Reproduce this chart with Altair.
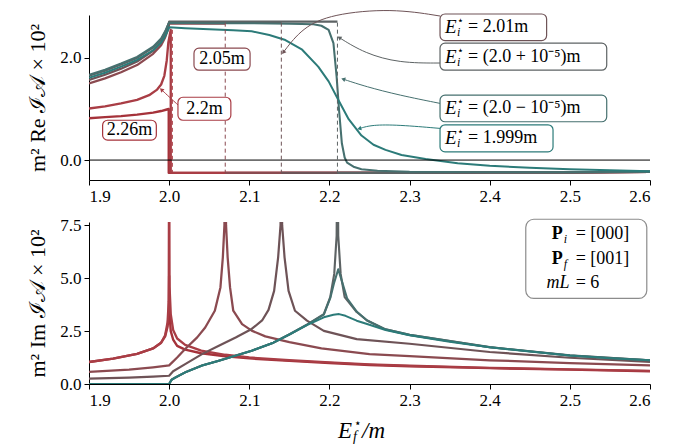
import math
import altair as alt
import pandas as pd

FONT = "Liberation Serif"

SERIES = ["2.26m", "2.2m", "2.05m", "2.01m", "(2.0+1e-5)m", "(2.0-1e-5)m", "1.999m"]
COLORS = ["#a5323a", "#a93d45", "#8b4a50", "#6e5357", "#5d6364", "#46706f", "#2c7b79"]
WIDTHS = [2.4, 2.0, 2.0, 2.0, 2.0, 2.2, 2.2]
# curves whose jump in the real part is drawn only as a dashed guide
BROKEN = ["2.05m", "2.01m", "(2.0+1e-5)m"]

# ---------- top panel: m^2 Re I_A x 10^2 ----------
re_x_226 = [1.9, 1.92, 1.94, 1.96, 1.98, 1.99, 1.997, 1.9995, 1.9995, 2.1, 2.2, 2.3, 2.4, 2.5, 2.6]
re_y_226 = [0.82, 0.84, 0.86, 0.89, 0.93, 0.96, 0.99, 1.0, -0.25, -0.25, -0.25, -0.25, -0.24, -0.24, -0.23]

re_x_22 = [1.9, 1.92, 1.94, 1.96, 1.975, 1.985, 1.99, 1.994, 1.997, 1.999, 2.002, 2.002, 2.1, 2.2, 2.3, 2.4, 2.5, 2.6]
re_y_22 = [1.01, 1.05, 1.11, 1.18, 1.27, 1.38, 1.48, 1.65, 1.95, 2.3, 2.55, -0.25, -0.25, -0.25, -0.25, -0.24, -0.24, -0.23]

re_x_205 = [1.9, 1.92, 1.94, 1.96, 1.98, 1.99, 1.995, 1.999, 2.0, 2.03, 2.07, 2.07, 2.2, 2.3, 2.4, 2.5, 2.6]
re_y_205 = [1.50, 1.60, 1.72, 1.86, 2.08, 2.25, 2.40, 2.58, 2.67, 2.67, 2.67, -0.25, -0.25, -0.25, -0.24, -0.24, -0.23]

re_x_201 = [1.9, 1.92, 1.94, 1.96, 1.98, 1.99, 1.995, 1.999, 2.0, 2.07, 2.14, 2.14, 2.2, 2.3, 2.4, 2.5, 2.6]
re_y_201 = [1.57, 1.67, 1.79, 1.93, 2.14, 2.31, 2.45, 2.62, 2.69, 2.69, 2.69, -0.25, -0.25, -0.25, -0.24, -0.24, -0.23]

re_x_2p = [1.9, 1.92, 1.94, 1.96, 1.98, 1.99, 1.995, 1.999, 2.0, 2.1, 2.21, 2.21, 2.3, 2.4, 2.5, 2.6]
re_y_2p = [1.65, 1.75, 1.87, 2.00, 2.20, 2.36, 2.50, 2.66, 2.71, 2.71, 2.71, -0.25, -0.25, -0.24, -0.24, -0.23]

re_x_2m = [1.9, 1.92, 1.94, 1.96, 1.98, 1.99, 1.995, 1.999, 2.0, 2.05, 2.1, 2.15, 2.18, 2.19, 2.199, 2.205,
           2.209, 2.212, 2.2155, 2.219, 2.222, 2.23, 2.24, 2.26, 2.3, 2.4, 2.5, 2.6]
re_y_2m = [1.67, 1.77, 1.89, 2.02, 2.22, 2.38, 2.52, 2.66, 2.69, 2.68, 2.68, 2.67, 2.66, 2.63, 2.55, 2.29,
           1.63, 0.98, 0.33, 0.05, -0.05, -0.13, -0.18, -0.21, -0.23, -0.24, -0.24, -0.23]

re_x_1999 = [1.9, 1.92, 1.94, 1.96, 1.98, 1.99, 1.995, 1.999, 2.0, 2.02, 2.05, 2.08, 2.103, 2.125, 2.145, 2.166,
             2.186, 2.199, 2.211, 2.224, 2.24, 2.255, 2.27, 2.29, 2.32, 2.36, 2.4, 2.45, 2.5, 2.55, 2.6]
re_y_1999 = [1.61, 1.71, 1.83, 1.96, 2.15, 2.30, 2.42, 2.56, 2.60, 2.58, 2.56, 2.54, 2.52, 2.45, 2.35, 2.16,
             1.83, 1.54, 1.18, 0.80, 0.48, 0.30, 0.20, 0.10, 0.02, -0.06, -0.11, -0.15, -0.18, -0.20, -0.22]

# dashed thresholds in the top panel
step_series = ["2.2m", "2.05m", "2.01m", "(2.0+1e-5)m"]
step_x = [2.004, 2.07, 2.14, 2.21]
step_top = [2.55, 2.69, 2.69, 2.69]
step_bottom = [-0.25, -0.25, -0.25, -0.25]

# ---------- bottom panel: m^2 Im I_A x 10^2 ----------
im_x_226 = [1.9, 1.93, 1.96, 1.98, 1.99, 1.995, 1.998, 1.9995, 2.0, 2.0005, 2.002, 2.005, 2.01, 2.02, 2.04,
            2.07, 2.1, 2.15, 2.2, 2.25, 2.3, 2.4, 2.5, 2.6]
im_y_226 = [1.04, 1.20, 1.42, 1.68, 1.95, 2.25, 2.70, 3.30, 5.10, 3.30, 2.50, 2.10, 1.80, 1.62, 1.45,
            1.31, 1.21, 1.09, 0.99, 0.90, 0.84, 0.75, 0.68, 0.60]

im_x_22 = [1.9, 1.93, 1.96, 1.98, 1.99, 1.995, 1.998, 1.9995, 2.0, 2.0005, 2.002, 2.005, 2.01, 2.02, 2.04,
           2.07, 2.1, 2.15, 2.2, 2.25, 2.3, 2.4, 2.5, 2.6]
im_y_22 = [1.04, 1.20, 1.42, 1.68, 1.95, 2.30, 2.90, 3.90, 12.0, 4.60, 3.30, 2.55, 2.15, 1.85, 1.58,
           1.38, 1.25, 1.12, 1.02, 0.93, 0.86, 0.76, 0.69, 0.62]

im_x_205 = [1.9, 1.95, 1.98, 2.0, 2.01, 2.02, 2.035, 2.045, 2.057, 2.064, 2.067, 2.069, 2.07, 2.071, 2.073,
            2.076, 2.08, 2.091, 2.103, 2.12, 2.15, 2.19, 2.25, 2.3, 2.4, 2.5, 2.6]
im_y_205 = [0.57, 0.68, 0.79, 0.88, 1.25, 1.65, 2.20, 2.67, 3.46, 4.56, 5.98, 7.50, 12.0, 7.50, 5.98,
            4.56, 3.46, 2.83, 2.52, 2.25, 1.98, 1.68, 1.41, 1.32, 1.12, 0.99, 0.88]

im_x_201 = [1.9, 1.95, 1.98, 2.0, 2.005, 2.02, 2.041, 2.062, 2.083, 2.103, 2.116, 2.124, 2.131, 2.136, 2.139,
            2.14, 2.141, 2.144, 2.149, 2.157, 2.172, 2.193, 2.234, 2.3, 2.4, 2.5, 2.6]
im_y_201 = [0.25, 0.30, 0.35, 0.39, 0.60, 0.94, 1.41, 1.81, 2.20, 2.60, 3.00, 3.50, 4.40, 5.98, 7.50,
            12.0, 7.50, 5.98, 4.40, 3.46, 2.99, 2.51, 2.12, 1.90, 1.51, 1.24, 1.04]

im_x_2p = [1.9, 2.0, 2.003, 2.008, 2.02, 2.041, 2.062, 2.083, 2.103, 2.13, 2.151, 2.172, 2.193, 2.201, 2.206,
           2.209, 2.21, 2.211, 2.214, 2.219, 2.234, 2.247, 2.27, 2.3, 2.4, 2.5, 2.6]
im_y_2p = [0.0, 0.0, 0.20, 0.31, 0.55, 0.87, 1.10, 1.34, 1.57, 1.95, 2.36, 2.80, 3.30, 4.10, 5.20,
           7.00, 12.0, 7.00, 5.20, 4.10, 3.40, 3.00, 2.58, 2.32, 1.74, 1.35, 1.12]

im_x_2m = [1.9, 2.0, 2.003, 2.008, 2.02, 2.041, 2.062, 2.083, 2.103, 2.13, 2.151, 2.172, 2.193, 2.201, 2.206,
           2.211, 2.216, 2.222, 2.234, 2.247, 2.27, 2.3, 2.4, 2.5, 2.6]
im_y_2m = [0.0, 0.0, 0.20, 0.31, 0.55, 0.87, 1.10, 1.34, 1.57, 1.95, 2.36, 2.80, 3.28, 4.05, 4.80,
           5.42, 4.80, 4.05, 3.42, 3.00, 2.58, 2.32, 1.74, 1.35, 1.12]

im_x_1999 = [1.9, 2.0, 2.003, 2.008, 2.02, 2.041, 2.062, 2.083, 2.103, 2.13, 2.151, 2.172, 2.193, 2.205, 2.212,
             2.22, 2.234, 2.247, 2.27, 2.3, 2.35, 2.4, 2.45, 2.5, 2.55, 2.6]
im_y_1999 = [0.0, 0.0, 0.20, 0.31, 0.55, 0.87, 1.10, 1.34, 1.57, 1.95, 2.36, 2.78, 3.15, 3.27, 3.30,
             3.22, 2.99, 2.83, 2.55, 2.30, 2.00, 1.74, 1.53, 1.35, 1.22, 1.12]

x_ticks = [1.9, 2.0, 2.1, 2.2, 2.3, 2.4, 2.5, 2.6]
re_ticks = [0.0, 2.0]
im_ticks = [0.0, 2.5, 5.0, 7.5]

# ---------- layout ----------
W = 561
H_TOP = 165
H_BOT = 162
X_DOM = [1.9, 2.6]
RE_DOM = [-0.39, 2.84]
IM_DOM = [0.0, 7.65]


def long_table(xs_list, ys_list, break_jumps):
    rows = []
    for k, (name, xs, ys) in enumerate(zip(SERIES, xs_list, ys_list)):
        seg = 0
        for i, (x, y) in enumerate(zip(xs, ys)):
            if break_jumps and name in BROKEN and i > 0 and x == xs[i - 1]:
                seg += 1
            rows.append({"series": name, "seg": f"{name}-{seg}", "i": i, "ef": x, "v": y})
    return pd.DataFrame(rows)


re_df = long_table([re_x_226, re_x_22, re_x_205, re_x_201, re_x_2p, re_x_2m, re_x_1999],
                   [re_y_226, re_y_22, re_y_205, re_y_201, re_y_2p, re_y_2m, re_y_1999], True)
im_df = long_table([im_x_226, im_x_22, im_x_205, im_x_201, im_x_2p, im_x_2m, im_x_1999],
                   [im_y_226, im_y_22, im_y_205, im_y_201, im_y_2p, im_y_2m, im_y_1999], False)

color_scale = alt.Scale(domain=SERIES, range=COLORS)
width_scale = alt.Scale(domain=SERIES, range=WIDTHS)
xsc = alt.Scale(domain=X_DOM, nice=False, zero=False)
re_sc = alt.Scale(domain=RE_DOM, nice=False, zero=False)
im_sc = alt.Scale(domain=IM_DOM, nice=False, zero=False)

X_AXIS = alt.Axis(values=x_ticks, format=".1f", title=None, tickSize=5, labelPadding=3)
RE_AXIS = alt.Axis(values=re_ticks, format=".1f", title="m² Re ℐ𝒜 × 10²",
                   tickSize=5, labelPadding=3, titlePadding=10)
IM_AXIS = alt.Axis(values=im_ticks, format=".1f", title="m² Im ℐ𝒜 × 10²",
                   tickSize=5, labelPadding=3, titlePadding=10)


def X(field):
    return alt.X(field, scale=xsc, axis=X_AXIS)


def YR(field):
    return alt.Y(field, scale=re_sc, axis=RE_AXIS)


def YI(field):
    return alt.Y(field, scale=im_sc, axis=IM_AXIS)


def curves(df, Yf):
    return alt.Chart(df).mark_line(clip=True, strokeJoin="round").encode(
        x=X("ef:Q"),
        y=Yf("v:Q"),
        color=alt.Color("series:N", scale=color_scale, legend=None),
        strokeWidth=alt.StrokeWidth("series:N", scale=width_scale, legend=None),
        detail="seg:N",
        order=alt.Order("i:Q"),
    )


top_lines = curves(re_df, YR)
bot_lines = curves(im_df, YI)

zero_df = pd.DataFrame({"v": [0.0]})
zero_line = alt.Chart(zero_df).mark_rule(color="black", strokeWidth=1).encode(y=YR("v:Q"))

steps_df = pd.DataFrame({"series": step_series, "ef": step_x, "v": step_top, "v2": step_bottom})
steps = alt.Chart(steps_df).mark_rule(strokeDash=[4, 3], strokeWidth=1).encode(
    x=X("ef:Q"), y=YR("v:Q"), y2="v2:Q",
    color=alt.Color("series:N", scale=color_scale, legend=None),
)

# ---------- annotations (top panel, data coordinates) ----------
simple_labels = ["2.05m", "2.2m", "2.26m"]
simple_series = ["2.05m", "2.2m", "2.26m"]
simple_x1 = [2.031, 2.011, 1.917]
simple_x2 = [2.101, 2.077, 1.984]
simple_y1 = [1.76, 0.78, 0.39]
simple_y2 = [2.19, 1.23, 0.78]

e_rest = ["= 2.01m", "= (2.0 + 10⁻⁵)m", "= (2.0 − 10⁻⁵)m", "= 1.999m"]
e_series = ["2.01m", "(2.0+1e-5)m", "(2.0-1e-5)m", "1.999m"]
e_x1 = [2.338, 2.338, 2.338, 2.338]
e_x2 = [2.471, 2.546, 2.546, 2.479]
e_y1 = [2.34, 1.76, 0.75, 0.16]
e_y2 = [2.86, 2.29, 1.27, 0.69]

box_df = pd.DataFrame({
    "series": simple_series + e_series,
    "x1": simple_x1 + e_x1, "x2": simple_x2 + e_x2,
    "y1": simple_y1 + e_y1, "y2": simple_y2 + e_y2,
})
box_df["xc"] = (box_df["x1"] + box_df["x2"]) / 2
box_df["yc"] = (box_df["y1"] + box_df["y2"]) / 2

boxes = alt.Chart(box_df).mark_rect(fill="white", cornerRadius=5, strokeWidth=1.2).encode(
    x=X("x1:Q"), x2="x2:Q", y=YR("y1:Q"), y2="y2:Q",
    stroke=alt.Stroke("series:N", scale=color_scale, legend=None),
)

simple_df = box_df.iloc[:3].copy()
simple_df["label"] = simple_labels
simple_text = alt.Chart(simple_df).mark_text(font=FONT, fontSize=18, color="black").encode(
    x=X("xc:Q"), y=YR("yc:Q"), text="label:N"
)

e_df = box_df.iloc[3:].copy()
e_df["rest"] = e_rest
e_df["E"] = "E"
e_df["star"] = "⋆"
e_df["sub"] = "i"


def part(df, field, dx, dy, size, style="normal", align="left"):
    return alt.Chart(df).mark_text(font=FONT, fontSize=size, fontStyle=style, align=align,
                                   baseline="middle", dx=dx, dy=dy, color="black").encode(
        x=X("x1:Q"), y=YR("yc:Q"), text=f"{field}:N"
    )


e_text = (part(e_df, "E", 5, 0, 19, "italic") + part(e_df, "star", 17, -6, 11)
          + part(e_df, "sub", 17, 5, 12, "italic") + part(e_df, "rest", 28, 0, 18))

# arrows: paths from boxes to curves
arrow_series = ["2.01m", "(2.0+1e-5)m", "(2.0-1e-5)m", "1.999m", "2.2m"]
arrow_x = [[2.338, 2.278, 2.203, 2.166, 2.143],
           [2.338, 2.287, 2.244, 2.213],
           [2.338, 2.287, 2.245, 2.218],
           [2.338, 2.286, 2.253, 2.238],
           [2.011, 1.9998, 1.991]]
arrow_y = [[2.82, 2.97, 2.86, 2.59, 2.12],
           [1.90, 1.90, 2.09, 2.39],
           [1.11, 1.27, 1.44, 1.58],
           [0.62, 0.69, 0.69, 0.62],
           [1.08, 1.24, 1.37]]

px_x = W / (X_DOM[1] - X_DOM[0])
px_y = H_TOP / (RE_DOM[1] - RE_DOM[0])
a_rows, h_rows = [], []
for a, (s, xs, ys) in enumerate(zip(arrow_series, arrow_x, arrow_y)):
    for i, (x, y) in enumerate(zip(xs, ys)):
        a_rows.append({"a": a, "i": i, "series": s, "ef": x, "v": y})
    dx = (xs[-1] - xs[-2]) * px_x
    dy = -(ys[-1] - ys[-2]) * px_y
    ang = math.degrees(math.atan2(dx, -dy)) % 360
    h_rows.append({"series": s, "ef": xs[-1], "v": ys[-1], "ang": ang})
arrow_df = pd.DataFrame(a_rows)
head_df = pd.DataFrame(h_rows)

arrow_lines = alt.Chart(arrow_df).mark_line(interpolate="basis", strokeWidth=1).encode(
    x=X("ef:Q"), y=YR("v:Q"),
    color=alt.Color("series:N", scale=color_scale, legend=None),
    detail="a:N", order=alt.Order("i:Q"),
)
arrow_heads = alt.Chart(head_df).mark_point(shape="triangle", filled=True, size=22, opacity=1).encode(
    x=X("ef:Q"), y=YR("v:Q"),
    color=alt.Color("series:N", scale=color_scale, legend=None),
    angle=alt.Angle("ang:Q", scale=None),
)

top = alt.layer(top_lines, zero_line, steps, arrow_lines, arrow_heads, boxes, simple_text, e_text).properties(
    width=W, height=H_TOP
)

# ---------- bottom panel info box ----------
info_left = ["P", "P", "mL"]
info_sub = ["i", "f", ""]
info_right = ["= [000]", "= [001]", "= 6"]
info_y = [7.08, 5.90, 4.77]
info_df = pd.DataFrame({"left": info_left, "sub": info_sub, "right": info_right, "v": info_y})
info_df["ef"] = 2.5072
info_box_df = pd.DataFrame({"x1": [2.445], "x2": [2.596], "y1": [4.04], "y2": [7.78]})

info_box = alt.Chart(info_box_df).mark_rect(fill="white", stroke="#8c8c8c", strokeWidth=1.2, cornerRadius=8).encode(
    x=X("x1:Q"), x2="x2:Q", y=YI("y1:Q"), y2="y2:Q",
)


def ipart(df, field, dx, dy, size, style="normal", weight="normal", align="left"):
    return alt.Chart(df).mark_text(font=FONT, fontSize=size, fontStyle=style, fontWeight=weight, align=align,
                                   baseline="middle", dx=dx, dy=dy, color="black").encode(
        x=X("ef:Q"), y=YI("v:Q"), text=f"{field}:N"
    )


info_P = info_df.iloc[:2]
info_m = info_df.iloc[2:]
info_text = (ipart(info_P, "left", -13, 0, 18, weight="bold", align="right")
             + ipart(info_P, "sub", -12, 5, 12, style="italic")
             + ipart(info_m, "left", -6, 0, 18, style="italic", align="right")
             + ipart(info_df, "right", 0, 0, 18))

# x-axis title E*_f / m as text pieces
xt_df = pd.DataFrame({"E": ["E"], "star": ["⋆"], "f": ["f"], "m": ["/m"]})


def xpart(field, x, dy, size, style="normal"):
    return alt.Chart(xt_df).mark_text(font=FONT, fontSize=size, fontStyle=style, align="left",
                                      baseline="middle", color="black", dy=dy).encode(
        x=alt.value(x), y=alt.value(H_BOT + 47), text=f"{field}:N"
    )


x_title = xpart("E", 249, 0, 23, "italic") + xpart("star", 265, -8, 12) + xpart("f", 264, 6, 14, "italic") + \
    xpart("m", 273, 0, 23, "italic")

bottom = alt.layer(bot_lines, info_box, info_text, x_title).properties(width=W, height=H_BOT)

chart = alt.vconcat(top, bottom, spacing=12).properties(
    padding={"left": 18, "top": 0, "right": 5, "bottom": 5}
).configure_view(stroke=None).configure_axis(
    domainColor="black", tickColor="black", labelColor="black", titleColor="black",
    labelFont=FONT, labelFontSize=17, titleFont=FONT, titleFontSize=22, titleFontWeight="normal",
    grid=False, domainWidth=1, tickWidth=1
)

chart.save("out.html", embed_options={"renderer": "svg", "actions": False})
